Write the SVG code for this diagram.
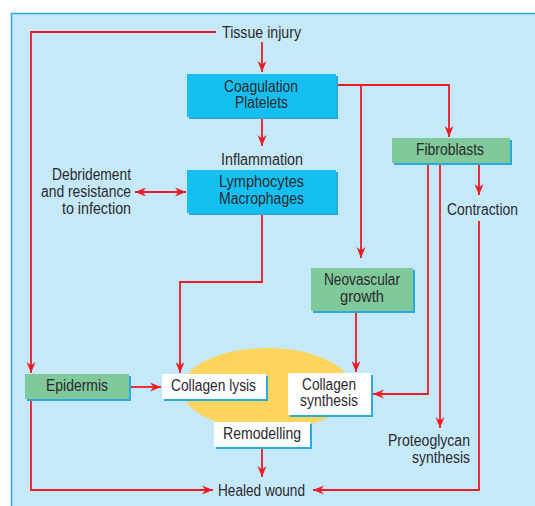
<svg xmlns="http://www.w3.org/2000/svg" width="535" height="506" viewBox="0 0 535 506">
<style>
text{font-family:"Liberation Sans",Arial,sans-serif;font-size:16px;fill:#2a2a2e;text-anchor:middle}
.r{text-anchor:end}
.sh{fill:#29abe2}
.cy{fill:#15c0f0}
.gr{fill:#80c99a}
.wh{fill:#ffffff}
.c path{fill:none;stroke:#ed1c24;stroke-width:1.8}
</style>
<defs>
<marker id="a" markerUnits="userSpaceOnUse" markerWidth="12" markerHeight="10" refX="11" refY="5" orient="auto">
<path d="M0,0.5 L11,5 L0,9.5 L3.5,5 z" fill="#ed1c24"/>
</marker>
<marker id="s" markerUnits="userSpaceOnUse" markerWidth="12" markerHeight="10" refX="0" refY="5" orient="auto">
<path d="M11,0.5 L0,5 L11,9.5 L7.5,5 z" fill="#ed1c24"/>
</marker>
</defs>
<rect x="11.5" y="13.5" width="530" height="500" fill="#c6e9f9" stroke="#29abe2" stroke-width="1.5"/>
<ellipse cx="267" cy="389" rx="85" ry="41" fill="#fdd55c"/>
<g class="c">
<path d="M216,32 H31 V373" marker-end="url(#a)"/>
<path d="M262,42 V72" marker-end="url(#a)"/>
<path d="M262,118 V146" marker-end="url(#a)"/>
<path d="M336,85 H449 V137" marker-end="url(#a)"/>
<path d="M361,85 V258" marker-end="url(#a)"/>
<path d="M479,163 V195" marker-end="url(#a)"/>
<path d="M479,221 V490 H313" marker-end="url(#a)"/>
<path d="M428,163 V394 H373" marker-end="url(#a)"/>
<path d="M440,163 V428" marker-end="url(#a)"/>
<path d="M262,213 V282 H180 V373" marker-end="url(#a)"/>
<path d="M356,311 V372" marker-end="url(#a)"/>
<path d="M129,387 H161" marker-end="url(#a)"/>
<path d="M31,399 V490 H213" marker-end="url(#a)"/>
<path d="M262,447 V477" marker-end="url(#a)"/>
<path d="M135,192 H186" marker-start="url(#s)" marker-end="url(#a)"/>
</g>
<g id="tissue"><text x="261.5" y="38" textLength="79" lengthAdjust="spacingAndGlyphs">Tissue injury</text></g>
<g id="coag">
<rect class="sh" x="189" y="76" width="149" height="43"/>
<rect class="cy" x="187" y="74" width="149" height="43"/>
<text x="261" y="92" textLength="74" lengthAdjust="spacingAndGlyphs">Coagulation</text>
<text x="261.5" y="108" textLength="53" lengthAdjust="spacingAndGlyphs">Platelets</text>
</g>
<g id="inflam"><text x="262" y="165" textLength="82" lengthAdjust="spacingAndGlyphs">Inflammation</text></g>
<g id="lymph">
<rect class="sh" x="189" y="172" width="149" height="43"/>
<rect class="cy" x="187" y="170" width="149" height="43"/>
<text x="261.5" y="187" textLength="85" lengthAdjust="spacingAndGlyphs">Lymphocytes</text>
<text x="261.5" y="204" textLength="85" lengthAdjust="spacingAndGlyphs">Macrophages</text>
</g>
<g id="debride">
<text class="r" x="131" y="180" textLength="79" lengthAdjust="spacingAndGlyphs">Debridement</text>
<text class="r" x="131" y="197" textLength="90" lengthAdjust="spacingAndGlyphs">and resistance</text>
<text class="r" x="131" y="214" textLength="69" lengthAdjust="spacingAndGlyphs">to infection</text>
</g>
<g id="fibro">
<rect class="sh" x="394" y="140" width="118" height="25"/>
<rect class="gr" x="392" y="138" width="118" height="25"/>
<text x="450" y="155" textLength="68" lengthAdjust="spacingAndGlyphs">Fibroblasts</text>
</g>
<g id="contraction"><text x="482.5" y="215" textLength="71" lengthAdjust="spacingAndGlyphs">Contraction</text></g>
<g id="neo">
<rect class="sh" x="313" y="270" width="102" height="43"/>
<rect class="gr" x="311" y="268" width="102" height="43"/>
<text x="362" y="285" textLength="76" lengthAdjust="spacingAndGlyphs">Neovascular</text>
<text x="362" y="302" textLength="44" lengthAdjust="spacingAndGlyphs">growth</text>
</g>
<g id="epidermis">
<rect class="sh" x="27" y="376" width="104" height="25"/>
<rect class="gr" x="25" y="374" width="104" height="25"/>
<text x="77" y="391" textLength="62" lengthAdjust="spacingAndGlyphs">Epidermis</text>
</g>
<g id="lysis">
<rect class="sh" x="164" y="376" width="104" height="25"/>
<rect class="wh" x="162" y="374" width="104" height="25"/>
<text x="213.5" y="391" textLength="85" lengthAdjust="spacingAndGlyphs">Collagen lysis</text>
</g>
<g id="synth">
<rect class="sh" x="290" y="375" width="83" height="42"/>
<rect class="wh" x="288" y="373" width="83" height="42"/>
<text x="329" y="390" textLength="54" lengthAdjust="spacingAndGlyphs">Collagen</text>
<text x="329" y="406" textLength="58" lengthAdjust="spacingAndGlyphs">synthesis</text>
</g>
<g id="remod">
<rect class="sh" x="216" y="424" width="96" height="25"/>
<rect class="wh" x="214" y="422" width="96" height="25"/>
<text x="262" y="439" textLength="78" lengthAdjust="spacingAndGlyphs">Remodelling</text>
</g>
<g id="proteo">
<text class="r" x="470" y="446" textLength="82" lengthAdjust="spacingAndGlyphs">Proteoglycan</text>
<text class="r" x="470" y="463" textLength="58" lengthAdjust="spacingAndGlyphs">synthesis</text>
</g>
<g id="healed"><text x="261.5" y="496" textLength="87" lengthAdjust="spacingAndGlyphs">Healed wound</text></g>
</svg>
